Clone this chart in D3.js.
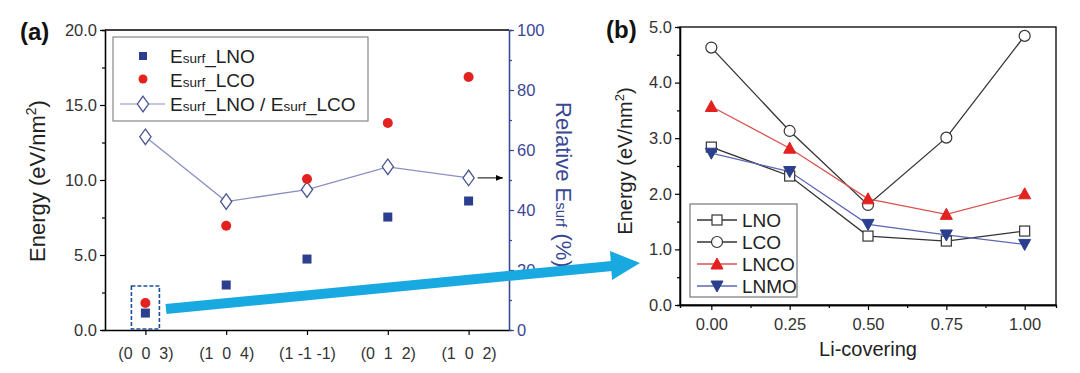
<!DOCTYPE html>
<html>
<head>
<meta charset="utf-8">
<script src="https://cdn.jsdelivr.net/npm/d3@7"></script>
<style>
  body { margin: 0; background: #fff; }
  text { font-family: "Liberation Sans", Arial, sans-serif; }
</style>
</head>
<body>
<div class="chart"></div>
<script>
// ---- panel (a) data ----
var facets = ["(0  0  3)", "(1  0  4)", "(1 -1 -1)", "(0  1  2)", "(1  0  2)"];
var esurfLNO = [1.13, 3.0, 4.73, 7.53, 8.6];
var esurfLCO = [1.8, 6.95, 10.07, 13.8, 16.87];
var relEsurf = [64.4, 42.8, 46.8, 54.4, 50.7];
var energyTicksA = [0, 5, 10, 15, 20];
var relTicks = [0, 20, 40, 60, 80, 100];

// ---- panel (b) data ----
var liCover = [0, 0.25, 0.5, 0.75, 1.0];
var lno = [2.84, 2.32, 1.24, 1.15, 1.33];
var lco = [4.63, 3.13, 1.80, 3.01, 4.84];
var lnco = [3.57, 2.82, 1.91, 1.63, 2.0];
var lnmo = [2.73, 2.40, 1.45, 1.26, 1.09];
var energyTicksB = [0, 1, 2, 3, 4, 5];
var coverTicks = [0, 0.25, 0.5, 0.75, 1.0];

var blue = "#2b3f8e", red = "#e3211f", axisBlue = "#3a4894";

var svg = d3.select(".chart").append("svg")
    .attr("width", 1080)
    .attr("height", 373);

function styleAxis(g, color) {
    g.selectAll("path").attr("stroke", color).attr("stroke-width", 1.3);
    g.selectAll("line").attr("stroke", color).attr("stroke-width", 1.2);
    g.selectAll("text").attr("fill", color === "#000" ? "#333" : color)
        .style("font-size", "16.5px").style("font-family", "Liberation Sans, Arial, sans-serif");
}

// ================= panel (a) =================
var ax = d3.scaleLinear().domain([-0.5, 4.5]).range([105, 509]);
var ay = d3.scaleLinear().domain([0, 20]).range([330, 30]);
var ay2 = d3.scaleLinear().domain([0, 100]).range([330, 30]);

// top border
svg.append("line").attr("x1", 105).attr("x2", 509).attr("y1", 30).attr("y2", 30)
    .attr("stroke", "#000").attr("stroke-width", 1.3);

// left axis, minor + major
svg.append("g").attr("transform", "translate(105,0)")
    .call(d3.axisLeft(ay).tickValues(d3.range(2.5, 20, 5)).tickSize(3).tickFormat(""))
    .call(g => styleAxis(g, "#000"));
svg.append("g").attr("transform", "translate(105,0)")
    .call(d3.axisLeft(ay).tickValues(energyTicksA).tickSize(5).tickSizeOuter(0).tickFormat(d3.format(".1f")))
    .call(g => styleAxis(g, "#000"));

// bottom axis
svg.append("g").attr("transform", "translate(0,330)")
    .call(d3.axisBottom(ax).tickValues(d3.range(5)).tickSize(5).tickSizeOuter(0).tickFormat(i => facets[i]))
    .call(g => styleAxis(g, "#000"))
    .call(g => g.selectAll("text").attr("dy", "1.3em").style("font-size", "16px").attr("xml:space", "preserve"));

// right axis
svg.append("g").attr("transform", "translate(509,0)")
    .call(d3.axisRight(ay2).tickValues(d3.range(10, 100, 20)).tickSize(3).tickFormat(""))
    .call(g => styleAxis(g, axisBlue));
svg.append("g").attr("transform", "translate(509,0)")
    .call(d3.axisRight(ay2).tickValues(relTicks).tickSize(5).tickSizeOuter(0))
    .call(g => styleAxis(g, axisBlue));

// axis titles
var t1 = svg.append("text").attr("transform", "translate(45,181) rotate(-90)")
    .attr("text-anchor", "middle").style("font-size", "22px").attr("fill", "#222");
t1.append("tspan").text("Energy (eV/nm");
t1.append("tspan").attr("dy", -9).style("font-size", "14px").text("2");
t1.append("tspan").attr("dy", 9).text(")");

var t2 = svg.append("text").attr("transform", "translate(556,102) rotate(90)")
    .attr("text-anchor", "start").style("font-size", "22px").attr("fill", axisBlue);
t2.append("tspan").text("Relative E");
t2.append("tspan").style("font-size", "15px").text("surf");
t2.append("tspan").text(" (%)");

svg.append("text").attr("x", 20).attr("y", 40).style("font-size", "24px")
    .style("font-weight", "bold").attr("fill", "#111").text("(a)");

// ratio line
svg.append("path").datum(relEsurf)
    .attr("d", d3.line().x((d, i) => ax(i)).y(d => ay2(d)))
    .attr("fill", "none").attr("stroke", "#8a90c0").attr("stroke-width", 1.3);
var diamond = d3.symbol().type(d3.symbolDiamond).size(70);
svg.selectAll(".dia").data(relEsurf).enter().append("path")
    .attr("transform", (d, i) => "translate(" + ax(i) + "," + ay2(d) + ") scale(1.25,1)")
    .attr("d", diamond).attr("fill", "#fff").attr("stroke", "#4a5590").attr("stroke-width", 1.1);

// LNO squares, LCO circles
svg.selectAll(".sqA").data(esurfLNO).enter().append("rect")
    .attr("x", (d, i) => ax(i) - 4.5).attr("y", d => ay(d) - 4.5)
    .attr("width", 9).attr("height", 9).attr("fill", blue);
svg.selectAll(".ciA").data(esurfLCO).enter().append("circle")
    .attr("cx", (d, i) => ax(i)).attr("cy", d => ay(d)).attr("r", 5).attr("fill", red);

// small arrow to right axis
svg.append("defs").append("marker").attr("id", "ah").attr("viewBox", "0 0 10 10")
    .attr("refX", 10).attr("refY", 5).attr("markerWidth", 7).attr("markerHeight", 7)
    .attr("markerUnits", "userSpaceOnUse").attr("orient", "auto")
    .append("path").attr("d", "M0,1 L10,5 L0,9 Z").attr("fill", "#000");
svg.append("line").attr("x1", ax(4) + 9).attr("x2", 503)
    .attr("y1", ay2(relEsurf[4])).attr("y2", ay2(relEsurf[4]))
    .attr("stroke", "#000").attr("stroke-width", 1).attr("marker-end", "url(#ah)");

// dashed box around (0 0 3)
svg.append("rect").attr("x", ax(0) - 14).attr("y", 286).attr("width", 28).attr("height", 43)
    .attr("fill", "none").attr("stroke", "#1f4e9c").attr("stroke-width", 1.6).attr("stroke-dasharray", "4,2");

// legend (a)
var legA = svg.append("g");
legA.append("rect").attr("x", 113).attr("y", 37).attr("width", 255).attr("height", 84)
    .attr("fill", "#fff").attr("stroke", "#888").attr("stroke-width", 1.2);
legA.append("rect").attr("x", 139).attr("y", 52).attr("width", 8).attr("height", 8).attr("fill", blue);
legA.append("circle").attr("cx", 143).attr("cy", 79).attr("r", 4.5).attr("fill", red);
legA.append("line").attr("x1", 120).attr("x2", 165).attr("y1", 104).attr("y2", 104)
    .attr("stroke", "#8a90c0").attr("stroke-width", 1.2);
legA.append("path").attr("transform", "translate(143,104) scale(1.25,1)").attr("d", diamond)
    .attr("fill", "#fff").attr("stroke", "#4a5590").attr("stroke-width", 1.1);
function esurf(el, name) {
    el.append("tspan").text("E");
    el.append("tspan").style("font-size", "13.5px").text("surf");
    el.append("tspan").text("_" + name);
}
[["LNO", 63], ["LCO", 87]].forEach(function (p) {
    var t = legA.append("text").attr("x", 170).attr("y", p[1]).style("font-size", "19px").attr("fill", "#222");
    esurf(t, p[0]);
});
var tl = legA.append("text").attr("x", 170).attr("y", 111).style("font-size", "19px").attr("fill", "#222");
esurf(tl, "LNO / ");
esurf(tl, "LCO");

// ================= panel (b) =================
var bx = d3.scaleLinear().domain([-0.1, 1.1]).range([680, 1056]);
var by = d3.scaleLinear().domain([0, 5]).range([305, 27]);

svg.append("rect").attr("x", 680).attr("y", 27).attr("width", 376).attr("height", 278)
    .attr("fill", "none").attr("stroke", "#000").attr("stroke-width", 1.3);

svg.append("g").attr("transform", "translate(680,0)")
    .call(d3.axisLeft(by).tickValues(d3.range(0.5, 5, 1)).tickSize(3).tickFormat(""))
    .call(g => styleAxis(g, "#000"));
svg.append("g").attr("transform", "translate(680,0)")
    .call(d3.axisLeft(by).tickValues(energyTicksB).tickSize(5).tickSizeOuter(0).tickFormat(d3.format(".1f")))
    .call(g => styleAxis(g, "#000"));
svg.append("g").attr("transform", "translate(0,305)")
    .call(d3.axisBottom(bx).tickValues([0.125, 0.375, 0.625, 0.875]).tickSize(3).tickFormat(""))
    .call(g => styleAxis(g, "#000"));
svg.append("g").attr("transform", "translate(0,305)")
    .call(d3.axisBottom(bx).tickValues(coverTicks).tickSize(5).tickSizeOuter(0).tickFormat(d3.format(".2f")))
    .call(g => styleAxis(g, "#000"))
    .call(g => g.selectAll("text").attr("dy", "1.0em"));

var t3 = svg.append("text").attr("transform", "translate(632,161) rotate(-90)")
    .attr("text-anchor", "middle").style("font-size", "20px").attr("fill", "#222");
t3.append("tspan").text("Energy (eV/nm");
t3.append("tspan").attr("dy", -8).style("font-size", "13px").text("2");
t3.append("tspan").attr("dy", 8).text(")");
svg.append("text").attr("x", 868).attr("y", 356).attr("text-anchor", "middle")
    .style("font-size", "20px").attr("fill", "#222").text("Li-covering");
svg.append("text").attr("x", 606).attr("y", 38).style("font-size", "24px")
    .style("font-weight", "bold").attr("fill", "#111").text("(b)");

var seriesB = [
    { name: "LNO", values: lno, line: "#333", stroke: "#333", fill: "#fff", shape: "square" },
    { name: "LCO", values: lco, line: "#333", stroke: "#333", fill: "#fff", shape: "circle" },
    { name: "LNCO", values: lnco, line: "#d9534f", stroke: red, fill: red, shape: "up" },
    { name: "LNMO", values: lnmo, line: "#5a68b4", stroke: blue, fill: blue, shape: "down" }
];

function marker(g, s, x, y) {
    if (s.shape === "square") {
        g.append("rect").attr("x", x - 5).attr("y", y - 5).attr("width", 10).attr("height", 10)
            .attr("fill", s.fill).attr("stroke", s.stroke).attr("stroke-width", 1.2);
    } else if (s.shape === "circle") {
        g.append("circle").attr("cx", x).attr("cy", y).attr("r", 5.5)
            .attr("fill", s.fill).attr("stroke", s.stroke).attr("stroke-width", 1.2);
    } else {
        var d = s.shape === "up" ? "M0,-6 L6,5 L-6,5 Z" : "M0,6 L6,-5 L-6,-5 Z";
        g.append("path").attr("transform", "translate(" + x + "," + y + ")").attr("d", d)
            .attr("fill", s.fill).attr("stroke", s.stroke).attr("stroke-width", 1);
    }
}

var lineB = d3.line().x((d, i) => bx(liCover[i])).y(d => by(d));
seriesB.forEach(function (s) {
    svg.append("path").datum(s.values).attr("d", lineB)
        .attr("fill", "none").attr("stroke", s.line).attr("stroke-width", 1.3);
});
seriesB.forEach(function (s) {
    var g = svg.append("g");
    s.values.forEach((v, i) => marker(g, s, bx(liCover[i]), by(v)));
});

// legend (b)
var legB = svg.append("g");
legB.append("rect").attr("x", 690).attr("y", 204).attr("width", 107).attr("height", 93)
    .attr("fill", "#fff").attr("stroke", "#777").attr("stroke-width", 1.2);
seriesB.forEach(function (s, i) {
    var y = 220 + i * 22;
    legB.append("line").attr("x1", 697).attr("x2", 737).attr("y1", y).attr("y2", y)
        .attr("stroke", s.line).attr("stroke-width", 1.3);
    marker(legB, s, 717, y);
    legB.append("text").attr("x", 742).attr("y", y + 7).style("font-size", "19px")
        .attr("fill", "#222").text(s.name);
});

// big cyan arrow from panel (a) to panel (b)
var arrowPts = [[166, 309], [612, 266]];
svg.append("line").attr("x1", arrowPts[0][0]).attr("y1", arrowPts[0][1])
    .attr("x2", arrowPts[1][0]).attr("y2", arrowPts[1][1])
    .attr("stroke", "#19a9e1").attr("stroke-width", 10);
svg.append("path").attr("d", "M610,251 L640,263 L612,280 Z").attr("fill", "#19a9e1");
</script>
</body>
</html>
